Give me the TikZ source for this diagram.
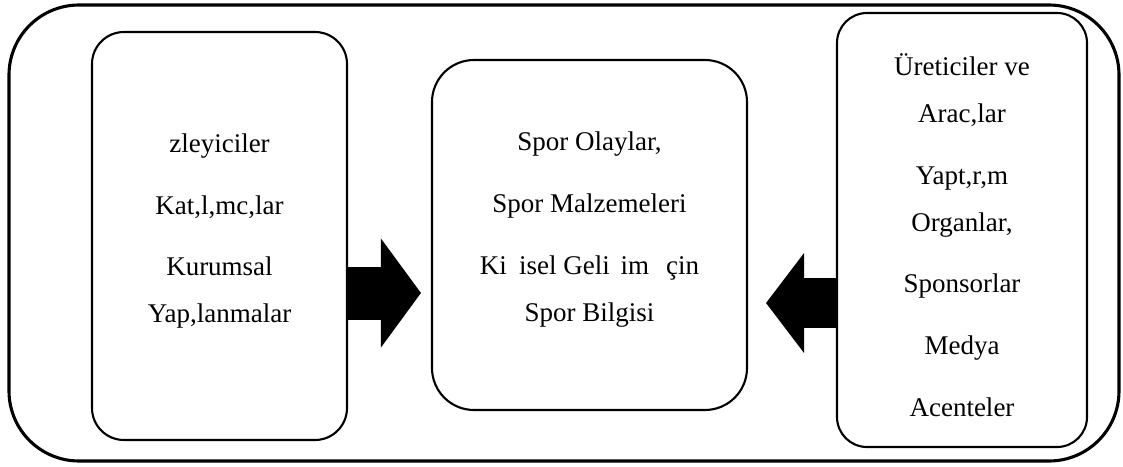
\documentclass[tikz,border=0pt]{standalone}
\usepackage{fontspec}
\setmainfont{Liberation Serif}
\usetikzlibrary{arrows.meta}
\begin{document}
\begin{tikzpicture}[box/.style={draw,line width=1.5pt,inner sep=0pt},
  txt/.style={inner sep=0pt,align=center,font=\fontsize{19.2}{33.4}\selectfont},
  blockarrow/.style n args={3}{line width=#1,-{Triangle[length=#2,width=#3,line width=0pt]}}]
\useasboundingbox (0,0) rectangle (28.075,11.65);
\draw[line width=2.2pt,rounded corners=1.75cm] (0.225,0.125) rectangle (27.975,11.525);
\node[box,rounded corners=0.8cm,minimum width=6.375cm,minimum height=10.2cm] (lbox) at (5.4875,5.75) {};
\node[box,rounded corners=1.05cm,minimum width=7.875cm,minimum height=8.75cm] (cbox) at (14.7375,5.775) {};
\node[box,rounded corners=0.75cm,minimum width=6.25cm,minimum height=10.85cm] (rbox) at (24.05,5.9) {};
\node[txt] (ltext) at ([yshift=0.12cm]lbox.center)
  {zleyiciler\\[10.5pt] Kat,l,mc,lar\\[10.5pt] Kurumsal\\ Yap,lanmalar};
\node[txt] (ctext) at ([yshift=0.14cm]cbox.center)
  {Spor Olaylar,\\[10.5pt] Spor Malzemeleri\\[10.5pt] Ki\hspace{.45em}isel Geli\hspace{.4em}im\hspace{.63em}çin\\ Spor Bilgisi};
\node[txt] (rtext) at ([yshift=-0.125cm]rbox.center)
  {Üreticiler ve\\ Arac,lar\\[10.5pt] Yapt,r,m\\ Organlar,\\[10.5pt] Sponsorlar\\[10.5pt] Medya\\[10.5pt] Acenteler};
\draw[blockarrow={1.325cm}{1cm}{2.725cm},shorten >=0.25cm] (lbox.east |- 0,4.325) -- (cbox.west |- 0,4.325);
\draw[blockarrow={1.25cm}{0.95cm}{2.5cm},shorten >=0.45cm] (rbox.west |- 0,4.075) -- (cbox.east |- 0,4.075);
\end{tikzpicture}
\end{document}
